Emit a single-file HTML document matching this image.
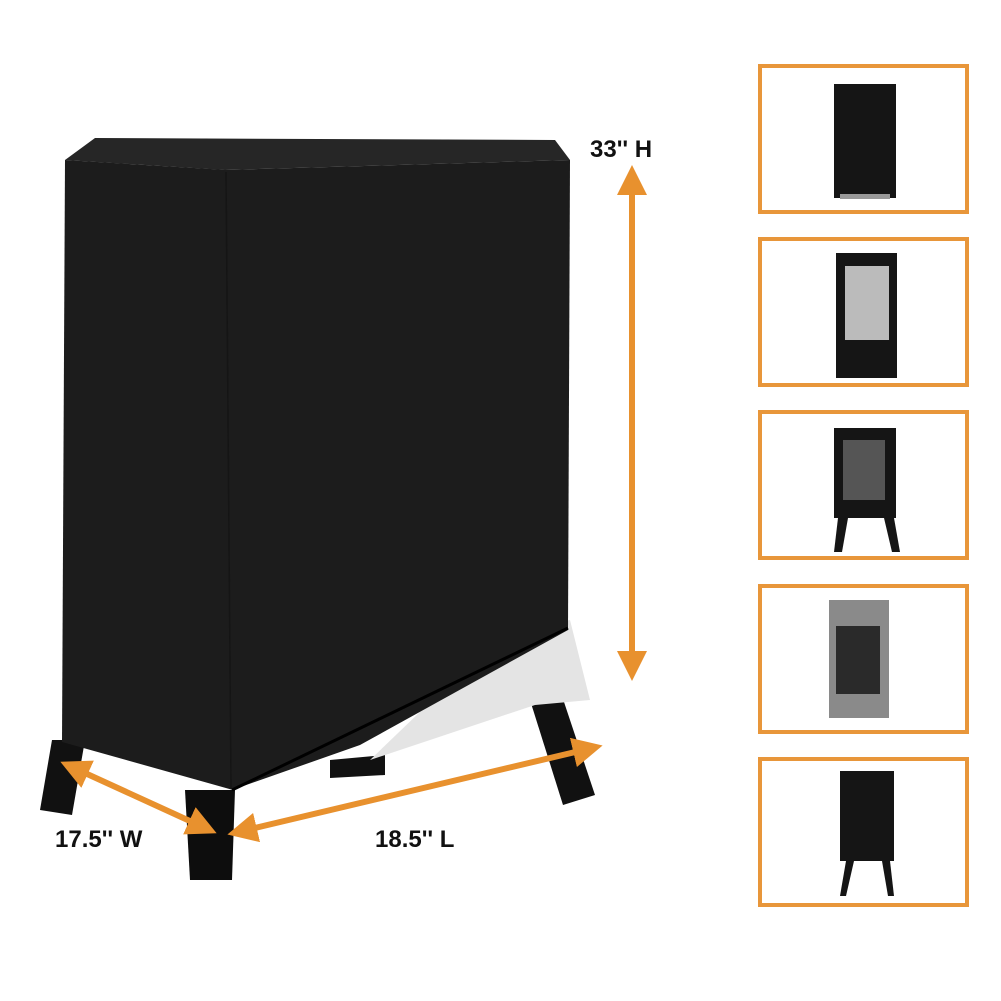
<!DOCTYPE html>
<html><head><style>body{margin:0;background:#fff}svg{display:block}</style></head><body>
<svg width="1001" height="1001" viewBox="0 0 1001 1001" xmlns="http://www.w3.org/2000/svg">
<defs>
<marker id="ah" markerWidth="5" markerHeight="5" refX="2.5" refY="2.5" orient="auto-start-reverse" markerUnits="strokeWidth"><path d="M0,0 L5,2.5 L0,5 z" fill="#E8912E"/></marker>
</defs>
<!-- legs -->
<polygon points="52,740 85,740 72,815 40,810" fill="#111"/>
<polygon points="530,700 560,690 595,795 563,805" fill="#111"/>
<polygon points="185,790 235,790 232,880 190,880" fill="#0d0d0d"/>
<polygon points="330,760 385,755 385,775 330,778" fill="#111"/>
<!-- liner -->
<polygon points="500,635 570,620 590,700 535,705 370,760" fill="#e4e4e4"/>
<!-- cover -->
<polygon points="95,138 555,140 570,160 225,170 65,160" fill="#262626"/>
<polygon points="225,170 570,160 568,630 360,745 232,790" fill="#1c1c1c"/>
<polygon points="65,160 227,170 233,790 62,742" fill="#1c1c1c"/>
<line x1="226" y1="172" x2="231" y2="788" stroke="#151515" stroke-width="1.5"/>
<line x1="232" y1="790" x2="568" y2="628" stroke="#000" stroke-width="3"/>
<!-- arrows -->
<g stroke="#E8912E" stroke-width="6" fill="none">
<line x1="632" y1="180" x2="632" y2="666" marker-start="url(#ah)" marker-end="url(#ah)"/>
<line x1="74" y1="768" x2="203" y2="827" marker-start="url(#ah)" marker-end="url(#ah)"/>
<line x1="242" y1="831" x2="588" y2="749" marker-start="url(#ah)" marker-end="url(#ah)"/>
</g>
<g font-family="Liberation Sans, sans-serif" font-weight="bold" font-size="24" fill="#111">
<text x="590" y="157">33'' H</text>
<text x="55" y="847">17.5'' W</text>
<text x="375" y="847">18.5'' L</text>
</g>
<!-- thumbnails -->
<g fill="#fff" stroke="#E8963A" stroke-width="4">
<rect x="760" y="66" width="207" height="146"/>
<rect x="760" y="239" width="207" height="146"/>
<rect x="760" y="412" width="207" height="146"/>
<rect x="760" y="586" width="207" height="146"/>
<rect x="760" y="759" width="207" height="146"/>
</g>
<rect x="834" y="84" width="62" height="114" fill="#151515"/>
<rect x="840" y="194" width="50" height="5" fill="#999"/>
<rect x="836" y="253" width="61" height="125" fill="#151515"/>
<rect x="845" y="266" width="44" height="74" fill="#bbb"/>
<rect x="834" y="428" width="62" height="90" fill="#151515"/>
<rect x="843" y="440" width="42" height="60" fill="#555"/>
<polygon points="838,518 848,518 842,552 834,552" fill="#151515"/>
<polygon points="884,518 894,518 900,552 892,552" fill="#151515"/>
<rect x="829" y="600" width="60" height="118" fill="#8a8a8a"/>
<rect x="836" y="626" width="44" height="68" fill="#2a2a2a"/>
<rect x="840" y="771" width="54" height="90" fill="#151515"/>
<polygon points="846,861 854,861 846,896 840,896" fill="#151515"/>
<polygon points="882,861 890,861 894,896 888,896" fill="#151515"/>
</svg>
</body></html>
